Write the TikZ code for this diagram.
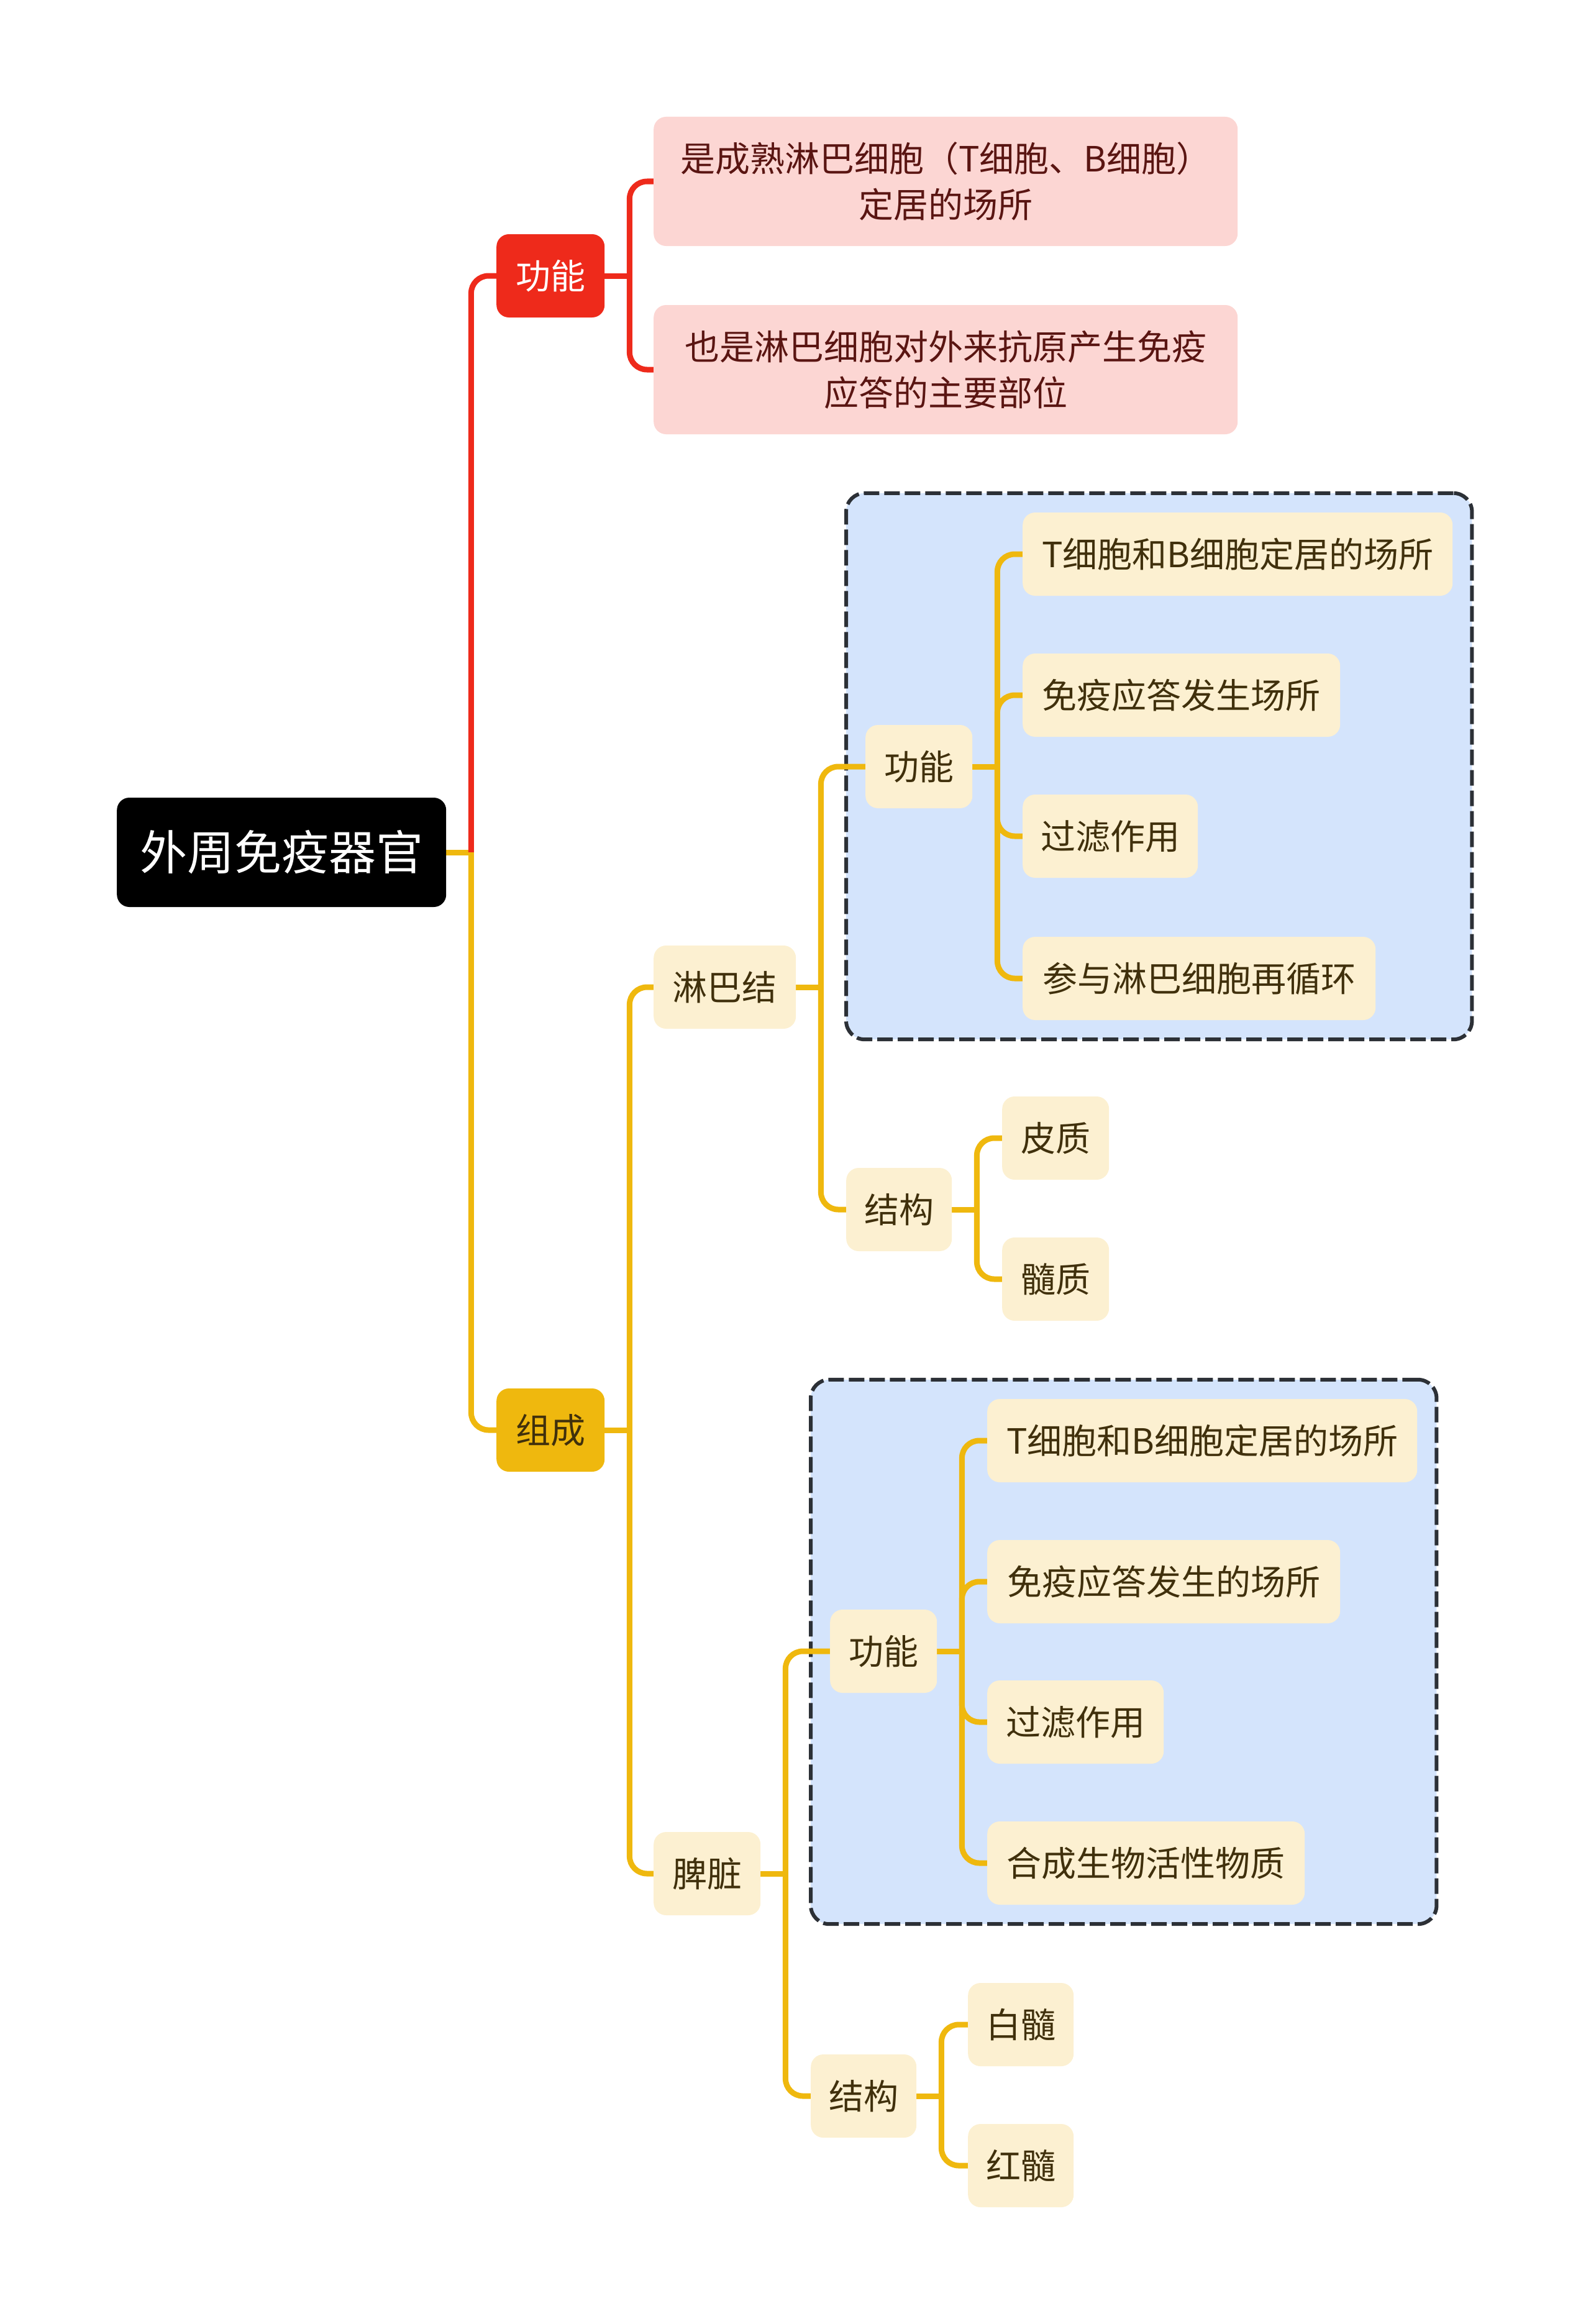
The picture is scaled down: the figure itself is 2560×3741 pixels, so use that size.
\documentclass[tikz,border=0pt]{standalone}
\usepackage{fontspec}
\setmainfont{Noto Sans CJK SC}
\usetikzlibrary{calc,fit}
\pgfdeclarelayer{back}
\pgfdeclarelayer{bg}
\pgfsetlayers{back,bg,main}
\definecolor{redc}{HTML}{EE2A1B}
\definecolor{pinkf}{HTML}{FCD6D3}
\definecolor{pinkt}{HTML}{5A1512}
\definecolor{yelc}{HTML}{EFB80E}
\definecolor{creamf}{HTML}{FCF0D1}
\definecolor{creamt}{HTML}{40300C}
\definecolor{bluef}{HTML}{D4E4FC}
\definecolor{dashc}{HTML}{2C3036}
\tikzset{
  box/.style={rounded corners=20pt, inner sep=0pt, minimum height=134pt,
    font=\fontsize{56}{74}\selectfont, anchor=west},
  cream/.style={box, fill=creamf, text=creamt},
  conn/.style={line width=9pt, rounded corners=28pt},
  dbox/.style={draw=dashc, fill=bluef, line width=6pt, rounded corners=30pt,
    dash pattern=on 25pt off 8pt, inner sep=31pt},
}
\begin{document}
\begin{tikzpicture}[x=1pt,y=-1pt]
\useasboundingbox (0,0) rectangle (2560,3741);
% root
\node[box, fill=black, text=white, minimum width=530pt, minimum height=176pt,
  font=\fontsize{76}{90}\selectfont] (root) at (188,1372) {外周免疫器官};
% level 1
\node[box, fill=redc, text=white, minimum width=174pt] (gn) at (799,444) {功能};
\node[box, fill=yelc, text=creamt, minimum width=174pt] (zc) at (799,2302) {组成};
% pink
\node[box, fill=pinkf, text=pinkt, minimum width=940pt, minimum height=208pt, align=center] (p1) at (1052,292) {是成熟淋巴细胞（T细胞、B细胞）\\定居的场所};
\node[box, fill=pinkf, text=pinkt, minimum width=940pt, minimum height=208pt, align=center] (p2) at (1052,595) {也是淋巴细胞对外来抗原产生免疫\\应答的主要部位};
% lymph node
\node[cream, minimum width=229pt] (lb) at (1052,1589) {淋巴结};
\node[cream, minimum width=172pt] (lgn) at (1393,1234) {功能};
\node[cream, minimum width=692pt] (la) at (1646,892) {T细胞和B细胞定居的场所};
\node[cream, minimum width=511pt] (lb2) at (1646,1119) {免疫应答发生场所};
\node[cream, minimum width=282pt] (lc) at (1646,1346) {过滤作用};
\node[cream, minimum width=568pt] (ld) at (1646,1575) {参与淋巴细胞再循环};
\node[cream, minimum width=170pt] (ljg) at (1362,1947) {结构};
\node[cream, minimum width=172pt] (lp) at (1613,1832) {皮质};
\node[cream, minimum width=172pt] (ls) at (1613,2059) {髓质};
% spleen
\node[cream, minimum width=172pt] (pz) at (1052,3016) {脾脏};
\node[cream, minimum width=172pt] (sgn) at (1336,2658) {功能};
\node[cream, minimum width=692pt] (sa) at (1589,2319) {T细胞和B细胞定居的场所};
\node[cream, minimum width=568pt] (sb) at (1589,2546) {免疫应答发生的场所};
\node[cream, minimum width=284pt] (sc) at (1589,2772) {过滤作用};
\node[cream, minimum width=511pt] (sd) at (1589,2999) {合成生物活性物质};
\node[cream, minimum width=170pt] (sjg) at (1305,3374) {结构};
\node[cream, minimum width=170pt] (sbs) at (1558,3259) {白髓};
\node[cream, minimum width=170pt] (shs) at (1558,3486) {红髓};
% dashed boxes
\begin{pgfonlayer}{back}
\node[dbox, fit=(lgn)(la)(lb2)(lc)(ld)] (dash1) {};
\node[dbox, fit=(sgn)(sa)(sb)(sc)(sd)] (dash2) {};
\end{pgfonlayer}
% connectors
\begin{pgfonlayer}{bg}
\coordinate (j0) at ($(root.east)+(40,0)$);
\draw[conn, yelc] (root.east) -- (j0);
\draw[conn, redc] (j0) |- (gn.west);
\draw[conn, yelc] (j0) |- (zc.west);
\coordinate (j1) at ($(gn.east)+(40,0)$);
\draw[conn, redc] (gn.east) -- (j1);
\foreach \c in {p1,p2} \draw[conn, redc] (j1) |- (\c.west);
\coordinate (j2) at ($(zc.east)+(40,0)$);
\draw[conn, yelc] (zc.east) -- (j2);
\foreach \c in {lb,pz} \draw[conn, yelc] (j2) |- (\c.west);
\coordinate (j3) at ($(lb.east)+(40,0)$);
\draw[conn, yelc] (lb.east) -- (j3);
\foreach \c in {lgn,ljg} \draw[conn, yelc] (j3) |- (\c.west);
\coordinate (j4) at ($(lgn.east)+(40,0)$);
\draw[conn, yelc] (lgn.east) -- (j4);
\foreach \c in {la,lb2,lc,ld} \draw[conn, yelc] (j4) |- (\c.west);
\coordinate (j5) at ($(ljg.east)+(40,0)$);
\draw[conn, yelc] (ljg.east) -- (j5);
\foreach \c in {lp,ls} \draw[conn, yelc] (j5) |- (\c.west);
\coordinate (j6) at ($(pz.east)+(40,0)$);
\draw[conn, yelc] (pz.east) -- (j6);
\foreach \c in {sgn,sjg} \draw[conn, yelc] (j6) |- (\c.west);
\coordinate (j7) at ($(sgn.east)+(40,0)$);
\draw[conn, yelc] (sgn.east) -- (j7);
\foreach \c in {sa,sb,sc,sd} \draw[conn, yelc] (j7) |- (\c.west);
\coordinate (j8) at ($(sjg.east)+(40,0)$);
\draw[conn, yelc] (sjg.east) -- (j8);
\foreach \c in {sbs,shs} \draw[conn, yelc] (j8) |- (\c.west);
\end{pgfonlayer}
\end{tikzpicture}
\end{document}
